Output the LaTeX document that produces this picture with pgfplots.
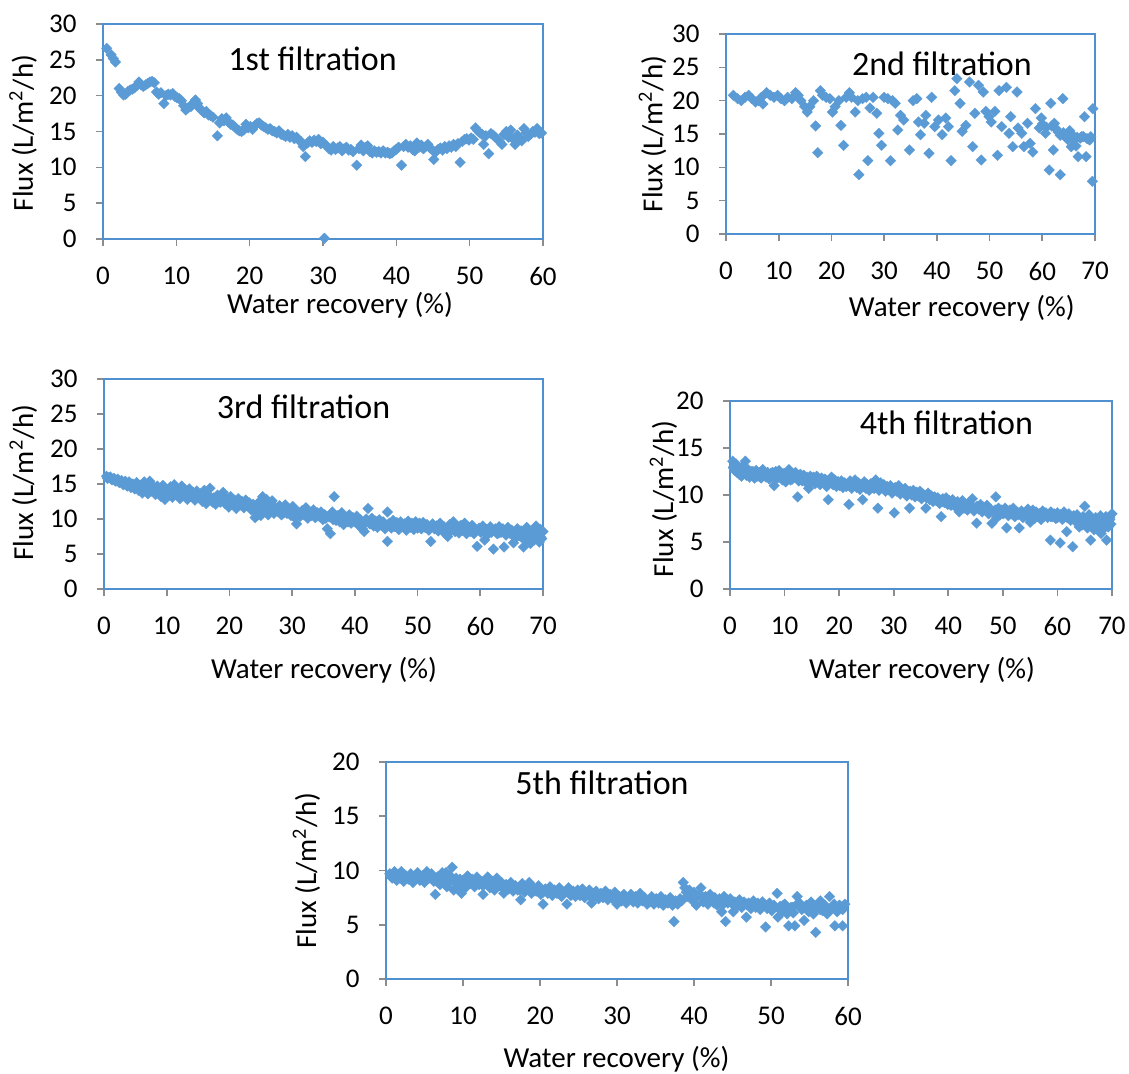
\documentclass[border=0pt]{standalone}
\usepackage{fontspec}
\setmainfont{Carlito}
\usepackage{pgfplots}
\pgfplotsset{compat=1.18}
\definecolor{mk}{HTML}{5B9BD5}
\definecolor{fr}{HTML}{4F90D0}
\definecolor{tk}{HTML}{8C8C8C}
\pgfplotsset{
  flux/.style={
    scale only axis, anchor=south west, clip=false,
    axis line style={draw=fr, line width=1pt},
    tick align=outside, major tick length=3.5pt,
    every tick/.style={draw=tk, line width=0.8pt},
    xtick pos=bottom, ytick pos=left, ymin=0,
    /pgf/number format/assume math mode=true,
    ticklabel style={font=\fontsize{13.5}{13.5}\selectfont, inner sep=0pt},
    yticklabel style={anchor=east, xshift=-9.5pt},
    xticklabel style={anchor=north, yshift=-10.2pt},
  },
  pts/.style={only marks, mark=square*, mark size=1.9pt,
    mark options={rotate=45, fill=mk, draw=mk, line width=0.1pt}},
}
\newcommand{\lab}{\fontsize{14.5}{14.5}\selectfont}
\newcommand{\ttl}{\fontsize{17}{17}\selectfont}
\begin{document}
\begin{tikzpicture}
\useasboundingbox (0,0) rectangle (564.5pt,-537pt);
% ---------- Panel 1
\begin{axis}[flux, at={(51.5pt,-119.5pt)}, width=220pt, height=107.5pt,
  xmin=0, xmax=60, ymax=30, xtick={0,10,...,60}, ytick={0,5,...,30}]
\addplot[pts] table {
x y
0.5 26.6
1.1 25.7
1.4 25.2
1.7 24.7
2.2 21.0
2.5 20.5
2.8 20.1
3.1 20.2
3.4 20.6
3.7 20.8
4.0 20.9
4.3 21.1
4.6 21.4
4.9 21.9
5.2 21.5
5.5 21.3
5.8 21.5
6.1 21.7
6.4 21.9
6.7 22.0
7.0 21.8
7.3 20.5
7.6 20.2
7.9 20.4
8.3 18.9
8.6 20.0
8.9 20.2
9.2 20.1
9.5 20.3
9.8 19.9
10.1 19.7
10.4 19.6
10.7 19.3
11.0 18.6
11.3 18.0
11.6 18.3
12.0 18.5
12.3 19.0
12.6 19.4
12.9 18.9
13.2 18.2
13.5 17.9
13.8 17.6
14.1 17.8
14.4 17.3
14.7 17.2
15.0 17.0
15.6 14.4
15.9 16.2
16.2 16.8
16.5 16.5
16.8 16.9
17.1 16.3
17.4 16.0
17.7 15.9
18.0 15.6
18.3 15.3
18.6 15.1
18.9 15.0
19.2 15.2
19.5 16.0
19.8 15.5
20.1 15.7
20.4 15.3
20.7 15.8
21.0 16.1
21.3 16.2
21.6 15.9
21.9 15.7
22.2 15.5
22.5 15.3
22.8 15.4
23.1 15.1
23.4 15.0
23.7 14.8
24.0 15.1
24.3 14.6
24.6 14.5
24.9 14.3
25.2 14.6
25.5 14.2
25.8 14.4
26.1 14.0
26.4 14.2
26.7 13.8
27.0 13.6
27.3 12.9
27.6 11.5
27.9 13.4
28.2 13.7
28.5 13.5
28.8 13.8
29.1 13.6
29.4 13.9
29.7 13.3
30.0 13.5
30.2 0.1
30.5 13.0
30.8 12.6
31.1 12.4
31.4 12.9
31.7 12.5
32.0 12.7
32.3 12.9
32.6 12.3
32.9 12.6
33.2 12.8
33.5 12.4
33.8 12.5
34.1 12.2
34.6 10.3
34.9 12.6
35.2 13.1
35.5 12.3
35.8 12.8
36.1 13.0
36.4 12.2
36.7 12.0
37.0 12.3
37.3 12.1
37.6 12.2
37.9 12.0
38.2 12.3
38.5 12.0
38.8 12.1
39.1 11.9
39.4 12.0
39.7 12.3
40.0 12.5
40.3 12.8
40.7 10.3
41.0 12.9
41.3 13.2
41.6 12.8
41.9 13.0
42.2 12.5
42.5 12.3
42.8 13.4
43.1 12.8
43.4 13.1
43.7 12.6
44.0 12.9
44.3 13.2
44.6 12.7
44.9 12.4
45.1 11.1
45.4 12.2
45.7 12.5
46.0 12.7
46.3 12.4
46.6 12.9
46.9 12.6
47.2 13.0
47.5 12.8
47.8 13.2
48.1 12.9
48.4 13.3
48.7 10.7
49.0 13.6
49.3 13.9
49.6 14.0
49.9 13.8
50.2 14.1
50.5 13.9
50.8 15.5
51.1 15.1
51.4 14.8
51.7 14.6
51.9 13.2
52.2 14.4
52.6 11.9
52.9 14.7
53.2 14.5
53.5 14.2
53.8 13.9
54.1 13.6
54.4 13.2
54.7 14.6
55.0 15.0
55.3 14.2
55.6 15.2
55.9 14.0
56.2 13.2
56.5 14.5
56.8 14.1
57.1 13.7
57.4 15.4
57.7 14.8
58.0 14.3
58.3 14.6
58.6 15.0
58.9 14.9
59.2 15.4
59.5 14.7
59.8 14.8
};
\end{axis}
% ---------- Panel 2
\begin{axis}[flux, at={(363pt,-117pt)}, width=184.5pt, height=100pt,
  xmin=0, xmax=70, ymax=30, xtick={0,10,...,70}, ytick={0,5,...,30}]
\addplot[pts] table {
x y
1.4 20.8
2.2 20.3
2.9 20.0
3.6 20.5
4.3 20.8
4.9 20.3
5.6 19.8
6.2 20.0
6.7 20.5
7.0 19.5
7.7 21.2
8.4 20.8
9.1 20.5
9.8 20.8
10.4 20.3
11.1 20.0
11.7 20.5
12.5 20.3
13.2 21.2
13.7 20.8
14.2 20.0
14.9 19.1
15.4 18.3
15.9 19.1
16.6 20.0
17.0 16.2
17.4 12.2
17.9 21.5
18.3 20.8
19.0 20.5
19.7 20.3
20.2 18.3
20.7 19.1
21.4 20.0
21.8 16.3
22.3 13.3
22.8 20.5
23.4 21.2
23.8 20.5
24.5 18.3
25.0 20.0
25.2 8.9
25.9 20.3
26.6 20.5
26.9 11.0
27.3 18.9
27.9 20.5
28.6 18.1
29.0 15.1
29.5 13.3
30.0 20.5
30.7 20.3
31.2 11.0
31.6 20.0
32.1 19.6
32.6 15.6
33.1 17.8
33.7 17.1
34.8 12.6
35.5 20.0
36.2 20.3
36.5 16.8
36.9 14.9
37.6 16.6
37.9 17.8
38.5 12.1
39.0 20.5
39.6 16.1
40.3 17.1
41.0 14.9
41.7 17.4
42.2 16.1
42.7 11.0
43.4 21.5
43.8 23.3
44.4 19.6
44.8 15.4
45.5 16.3
46.2 22.8
46.8 13.1
47.2 18.1
47.9 22.3
48.4 11.1
48.8 21.3
49.3 18.4
49.9 17.6
50.3 16.8
51.0 18.4
51.5 11.8
51.8 21.5
52.3 16.1
53.2 22.0
53.7 15.1
54.0 17.6
54.4 13.1
55.2 21.3
55.4 15.9
56.1 15.1
56.5 13.1
57.2 16.6
57.7 13.6
58.2 12.3
58.7 18.8
59.4 15.9
59.8 17.4
60.0 16.5
60.6 15.1
60.8 16.0
61.3 9.6
61.6 19.6
61.8 16.2
62.1 12.6
62.3 16.6
62.6 15.8
63.0 15.3
63.4 8.9
63.4 14.8
63.9 20.3
64.0 15.2
64.4 14.6
64.8 14.2
65.1 15.3
65.2 15.5
65.5 13.1
65.8 14.8
66.1 14.1
66.4 13.2
66.6 14.5
66.8 11.6
67.2 14.4
67.5 14.6
67.8 14.6
68.0 17.6
68.3 11.6
68.5 14.3
69.0 14.1
69.2 14.6
69.5 7.9
69.6 18.8
};
\end{axis}
% ---------- Panel 3
\begin{axis}[flux, at={(52pt,-294.5pt)}, width=219.5pt, height=105pt,
  xmin=0, xmax=70, ymax=30, xtick={0,10,...,70}, ytick={0,5,...,30}]
\addplot[pts] table {
x y
0.4 16.1
0.7 15.9
1.0 16.0
1.3 15.6
1.6 15.8
1.9 15.4
2.2 15.7
2.5 15.2
2.8 15.5
3.1 14.9
3.4 15.4
3.7 14.7
4.0 15.3
4.3 14.5
4.6 15.0
4.9 14.3
5.2 15.2
5.5 14.1
5.8 14.8
6.1 13.7
6.4 15.3
6.7 14.2
7.0 13.6
7.3 15.4
7.6 14.0
7.9 14.6
8.2 13.5
8.5 14.7
8.8 13.9
9.1 13.2
9.4 14.8
9.7 12.8
10.0 14.2
10.3 13.4
10.6 14.6
10.9 13.1
11.2 14.9
11.5 13.6
11.8 14.2
12.1 12.9
12.4 14.7
12.7 13.5
13.0 14.1
13.3 12.8
13.6 14.3
13.9 13.2
14.2 13.8
14.5 12.7
14.8 14.0
15.1 13.1
15.4 13.6
15.7 12.5
16.0 14.1
16.3 12.2
16.6 13.5
16.9 14.4
17.2 12.6
17.5 13.0
17.8 12.1
18.1 13.4
18.4 12.5
18.7 13.0
19.0 13.8
19.3 12.2
19.6 12.9
19.9 11.7
20.2 13.2
20.5 12.3
20.8 12.7
21.1 11.5
21.4 12.9
21.7 12.0
22.0 12.5
22.3 11.6
22.6 12.7
22.9 11.9
23.2 12.3
23.5 11.3
23.8 12.1
24.1 10.2
24.4 11.0
24.7 12.4
25.0 10.5
25.3 13.2
25.6 11.5
25.9 12.8
26.2 10.6
26.5 11.9
26.8 12.6
27.1 10.8
27.4 11.6
27.7 11.1
28.0 11.9
28.3 10.6
28.6 11.4
28.9 12.0
29.2 10.8
29.5 11.3
29.8 10.5
30.1 11.8
30.4 10.2
30.7 9.3
31.0 11.0
31.3 10.4
31.6 11.2
31.9 10.6
32.2 11.6
32.5 10.1
32.8 11.0
33.1 10.5
33.4 11.3
33.7 10.2
34.0 10.9
34.3 10.4
34.6 11.0
34.9 9.9
35.2 10.6
35.6 8.6
35.9 10.3
36.1 7.9
36.4 11.0
36.7 13.2
37.0 9.8
37.3 10.5
37.6 9.6
37.9 10.9
38.2 9.2
38.5 10.3
38.8 9.7
39.1 10.6
39.4 9.4
39.7 10.2
40.0 9.6
40.3 10.4
40.6 9.1
40.9 9.9
41.2 8.6
41.5 8.2
41.8 10.0
42.1 11.5
42.4 9.3
42.7 10.1
43.0 9.0
43.3 9.7
43.6 8.8
43.9 9.9
44.2 9.1
44.5 9.6
44.8 8.6
45.2 11.0
45.2 6.8
45.5 9.4
45.8 8.7
46.1 9.8
46.4 8.9
46.7 9.5
47.0 8.5
47.3 9.6
47.6 8.9
47.9 9.3
48.2 8.4
48.5 9.7
48.8 8.8
49.1 9.4
49.4 8.5
49.7 9.6
50.0 8.7
50.3 9.4
50.6 8.6
50.9 9.5
51.2 8.8
51.5 9.2
51.8 8.4
52.1 6.8
52.4 9.3
52.7 8.6
53.0 9.0
53.3 8.3
53.6 9.4
53.9 8.5
54.2 8.9
54.5 7.8
54.8 7.5
55.1 9.2
55.4 8.4
55.7 9.6
56.0 8.2
56.3 8.9
56.6 8.0
56.9 9.1
57.2 8.4
57.5 9.4
57.8 7.9
58.1 8.8
58.4 8.2
58.7 9.1
59.0 7.9
59.5 6.1
59.8 8.7
60.1 8.1
60.4 9.0
60.7 7.0
61.0 8.5
61.3 7.9
61.6 8.9
61.9 8.2
62.1 5.7
62.4 8.6
62.7 7.9
63.0 8.9
63.3 8.1
63.6 8.6
63.8 6.0
64.1 7.7
64.4 8.8
64.7 8.0
65.0 8.4
65.3 6.6
65.6 7.3
65.9 8.6
66.2 7.6
66.5 8.3
66.9 6.0
67.1 7.1
67.4 8.8
67.7 7.4
68.0 6.5
68.3 8.2
68.6 7.0
68.9 9.0
69.2 7.7
69.4 6.7
69.6 8.5
69.8 7.2
70.0 8.2
0.55 15.8
1.15 15.7
1.75 15.5
2.35 15.3
2.95 15.2
3.55 15.0
4.15 14.8
4.75 14.7
5.35 14.5
5.95 14.5
6.55 14.3
7.15 14.6
7.75 14.2
8.35 14.1
8.95 14.3
9.55 13.8
10.15 13.7
10.75 14.0
11.35 13.9
11.95 13.5
12.55 13.9
13.15 13.4
13.75 13.6
14.35 13.2
14.95 13.5
15.55 13.0
16.15 13.2
16.75 12.8
17.35 12.4
17.95 12.9
18.55 12.4
19.15 12.6
19.75 12.3
20.35 12.6
20.95 12.1
21.55 12.3
22.15 11.9
22.75 12.2
23.35 11.7
23.95 11.4
24.55 10.6
25.15 11.8
25.75 12.3
26.35 11.2
26.95 11.6
27.55 11.3
28.15 11.5
28.75 10.9
29.35 11.4
29.95 10.9
30.55 11.1
31.15 10.7
31.75 10.9
32.35 10.4
32.95 10.8
33.55 10.6
34.15 10.7
34.75 10.3
35.35 10.1
35.95 10.5
36.55 9.9
37.15 10.2
37.75 9.9
38.35 10.1
38.95 9.6
39.55 9.9
40.15 9.9
40.75 9.6
41.35 9.3
41.95 9.6
42.55 9.4
43.15 9.6
43.75 9.2
44.35 9.4
44.95 9.1
45.55 9.2
46.15 9.0
46.75 9.1
47.35 9.2
47.95 8.9
48.55 9.1
49.15 8.9
49.75 9.1
50.35 8.9
50.95 9.0
51.55 8.8
52.15 9.0
52.75 8.8
53.35 8.7
53.95 8.9
54.55 8.6
55.15 8.7
55.75 8.5
56.35 8.7
56.95 8.4
57.55 8.6
58.15 8.4
58.75 8.5
59.35 8.3
59.95 8.4
60.55 8.2
61.15 8.4
61.75 8.1
62.35 8.3
62.95 8.0
63.55 8.2
64.15 7.9
64.75 8.2
65.35 7.8
65.95 8.0
66.55 7.4
67.15 7.8
67.75 8.1
68.35 7.6
68.95 7.9
69.55 7.5
};
\end{axis}
% ---------- Panel 4
\begin{axis}[flux, at={(365pt,-294.5pt)}, width=191pt, height=94pt,
  xmin=0, xmax=70, ymax=20, xtick={0,10,...,70}, ytick={0,5,...,20}]
\addplot[pts] table {
x y
0.5 13.6
0.7 13.0
0.9 12.6
1.1 13.3
1.3 12.4
1.5 13.0
1.7 12.2
1.9 12.8
2.1 12.0
2.4 13.1
2.6 12.4
2.8 13.6
3.0 12.1
3.3 12.7
3.6 11.9
3.9 12.5
4.2 12.2
4.5 11.8
4.8 12.6
5.1 12.0
5.4 12.4
5.7 11.8
6.0 12.7
6.3 12.1
6.6 11.9
6.9 12.4
7.2 11.7
7.5 12.3
7.8 12.0
8.1 11.0
8.4 12.5
8.7 11.8
9.0 12.6
9.3 12.0
9.6 11.6
9.9 12.3
10.2 11.4
10.5 12.0
10.8 12.7
11.1 11.6
11.4 12.2
11.7 11.9
12.0 12.4
12.4 9.8
12.6 11.5
12.9 12.2
13.2 11.8
13.5 12.1
13.8 11.4
14.1 11.9
14.4 10.7
14.7 12.0
15.0 11.5
15.3 11.9
15.6 11.2
15.9 12.0
16.2 11.6
16.5 11.1
16.8 11.8
17.1 11.3
17.4 11.7
17.7 10.9
18.0 9.5
18.3 11.5
18.6 11.9
18.9 11.1
19.2 11.6
19.5 10.9
19.8 11.4
20.1 11.0
20.4 11.5
20.7 10.8
21.0 11.3
21.3 10.9
21.8 9.0
22.0 11.5
22.3 10.7
22.6 11.2
22.9 11.6
23.2 10.8
23.5 11.3
23.8 10.6
24.1 11.1
24.3 9.5
24.6 11.4
24.9 10.7
25.2 11.1
25.5 10.5
25.8 11.2
26.1 10.8
26.4 11.0
26.7 11.6
27.1 8.6
27.3 10.5
27.6 11.3
27.9 10.8
28.2 11.1
28.5 10.4
28.8 10.9
29.1 10.6
29.4 11.0
29.7 10.2
30.1 8.1
30.3 10.8
30.6 10.4
30.9 11.0
31.2 10.1
31.5 10.6
31.8 10.3
32.1 10.7
32.4 9.9
32.9 8.6
33.0 10.4
33.3 10.0
33.6 10.5
33.9 9.8
34.2 10.3
34.5 9.9
34.8 10.4
35.1 9.6
35.4 10.1
35.9 8.6
36.0 9.8
36.3 10.2
36.6 9.5
36.9 9.9
37.2 9.3
37.5 9.8
37.8 9.4
38.1 9.7
38.4 9.1
38.7 7.7
39.0 9.6
39.3 9.2
39.6 9.7
39.9 9.0
40.2 9.4
40.5 8.9
40.8 9.5
41.1 9.1
41.4 8.7
41.7 9.3
42.0 8.2
42.3 8.9
42.6 9.4
42.9 8.6
43.2 9.0
43.5 8.4
43.8 9.2
44.1 8.7
44.4 9.6
44.7 8.3
45.2 7.0
45.3 8.8
45.6 8.5
45.9 9.0
46.2 8.2
46.5 8.7
46.8 8.4
47.1 8.9
47.4 8.0
47.7 8.5
48.0 7.0
48.3 8.2
48.7 9.8
48.9 7.6
49.2 8.6
49.5 7.9
49.8 8.4
50.1 8.0
50.4 8.6
50.7 6.5
51.0 7.8
51.3 8.4
51.6 8.0
51.9 8.6
52.2 7.7
52.5 8.2
52.8 7.9
53.0 6.5
53.4 8.3
53.7 7.6
54.0 8.1
54.3 7.8
54.6 8.5
55.0 7.1
55.2 7.9
55.5 8.4
55.8 7.5
56.1 8.2
56.4 7.7
56.7 8.0
57.0 7.4
57.3 8.3
57.6 7.8
57.9 8.1
58.2 7.6
58.7 5.2
58.8 8.2
59.1 7.7
59.4 8.0
59.7 7.5
60.0 8.1
60.5 4.9
60.6 7.8
60.9 7.4
61.2 8.2
61.7 6.1
61.8 7.6
62.1 8.0
62.4 7.3
62.8 4.5
63.0 7.8
63.3 7.2
63.6 7.9
64.0 6.6
64.2 7.5
64.5 6.8
64.7 7.7
65.0 8.8
65.3 7.3
65.5 6.5
65.8 7.9
66.1 5.2
66.4 7.0
66.7 6.3
67.0 7.6
67.3 7.2
67.6 6.6
67.9 7.8
68.0 5.9
68.3 7.1
68.6 6.5
68.9 7.7
69.0 5.2
69.3 6.6
69.6 7.4
69.8 6.9
70.0 8.0
0.6 12.9
1.2 12.7
1.8 12.5
2.4 12.3
3.0 12.6
3.6 12.3
4.2 12.5
4.8 12.2
5.4 12.0
6.0 12.3
6.6 12.2
7.2 12.1
7.8 12.4
8.4 11.9
9.0 12.1
9.6 12.2
10.2 12.0
10.8 11.9
11.4 11.7
12.0 11.9
12.6 11.8
13.2 11.5
13.8 11.8
14.4 11.6
15.0 11.8
15.6 11.6
16.2 11.4
16.8 11.6
17.4 11.3
18.0 11.5
18.6 11.3
19.2 11.2
19.8 11.4
20.4 11.1
21.0 11.2
21.6 11.0
22.2 11.2
22.8 11.0
23.4 10.9
24.0 11.1
24.6 10.9
25.2 10.8
25.8 11.0
26.4 10.7
27.0 11.0
27.6 10.8
28.2 10.7
28.8 10.6
29.4 10.7
30.0 10.5
30.6 10.6
31.2 10.4
31.8 10.5
32.4 10.2
33.0 10.2
33.6 10.1
34.2 10.1
34.8 9.9
35.4 9.9
36.0 9.7
36.6 9.8
37.2 9.6
37.8 9.6
38.4 9.5
39.0 9.3
39.6 9.4
40.2 9.2
40.8 9.2
41.4 9.1
42.0 9.1
42.6 8.9
43.2 8.8
43.8 8.9
44.4 8.7
45.0 8.6
45.6 8.6
46.2 8.5
46.8 8.6
47.4 8.4
48.0 8.3
48.6 8.4
49.2 8.2
49.8 8.1
50.4 8.2
51.0 8.1
51.6 8.2
52.2 8.0
52.8 8.1
53.4 7.9
54.0 8.0
54.6 7.9
55.2 8.1
55.8 7.9
56.4 8.0
57.0 7.8
57.6 7.9
58.2 7.9
58.8 7.7
59.4 7.8
60.0 7.6
60.6 7.9
61.2 7.6
61.8 7.8
62.4 7.6
63.0 7.5
63.6 7.4
64.2 7.3
64.8 7.2
65.4 7.6
66.0 7.1
66.6 7.3
67.2 6.9
67.8 7.2
68.4 7.4
69.0 7.0
69.6 7.6
};
\end{axis}
% ---------- Panel 5
\begin{axis}[flux, at={(193pt,-489.5pt)}, width=231pt, height=108.5pt,
  xmin=0, xmax=60, ymax=20, xtick={0,10,...,60}, ytick={0,5,...,20}]
\addplot[pts] table {
x y
0.5 9.7
0.8 9.3
1.1 9.9
1.4 9.1
1.7 9.6
2.0 9.9
2.3 9.0
2.6 9.5
2.9 9.2
3.2 9.7
3.5 8.9
3.8 9.4
4.1 9.8
4.4 9.1
4.7 9.5
5.0 8.9
5.3 9.9
5.6 9.3
5.9 9.7
6.2 9.0
6.4 7.8
6.7 9.4
7.0 8.7
7.3 9.8
7.6 9.1
7.9 8.5
8.2 9.6
8.6 10.3
8.8 8.2
9.1 9.3
9.4 8.6
9.8 7.9
10.0 9.1
10.3 8.4
10.6 9.5
10.9 8.8
11.2 9.2
11.5 8.5
11.8 9.4
12.1 8.7
12.4 9.0
12.6 7.8
12.9 8.8
13.2 9.4
13.5 8.4
13.8 9.0
14.1 8.2
14.4 9.3
14.7 8.6
15.0 8.9
15.3 7.9
15.6 8.7
15.9 8.3
16.2 8.9
16.5 8.1
16.8 8.6
17.1 8.2
17.5 7.3
17.7 8.8
18.0 8.0
18.3 8.5
18.6 8.9
18.9 7.9
19.2 8.4
19.5 8.1
19.8 8.6
20.1 7.8
20.4 6.9
20.7 8.3
21.0 7.9
21.3 8.5
21.6 7.7
21.9 8.2
22.2 7.9
22.5 8.4
22.8 7.6
23.1 8.0
23.5 6.9
23.7 8.4
24.0 7.7
24.3 8.1
24.6 7.6
24.9 8.2
25.2 7.8
25.5 8.3
25.8 7.5
26.1 7.9
26.4 8.2
26.7 7.0
27.0 7.6
27.3 8.1
27.6 7.4
27.9 7.9
28.2 7.5
28.5 8.1
28.8 7.3
29.1 7.8
29.4 7.4
29.7 8.0
30.0 6.9
30.3 7.6
30.6 7.2
30.9 7.8
31.2 7.0
31.5 7.5
31.8 7.8
32.1 7.1
32.4 7.6
32.7 7.0
33.0 7.9
33.3 7.2
33.6 7.5
33.9 6.9
34.2 7.3
34.5 7.6
34.8 6.9
35.1 7.4
35.4 7.0
35.7 7.6
36.0 6.8
36.3 7.3
36.6 7.0
36.9 7.5
37.2 6.8
37.4 5.3
37.6 7.2
37.9 6.9
38.2 7.4
38.6 8.9
38.8 8.4
39.1 7.6
39.4 8.2
39.7 7.3
40.0 8.0
40.3 6.8
40.6 7.7
40.9 8.4
41.2 7.1
41.5 7.6
41.8 6.9
42.1 7.8
42.4 7.2
42.7 7.5
43.0 6.8
43.3 7.4
43.6 6.2
43.9 7.6
44.1 5.3
44.4 7.0
44.7 7.4
45.1 6.2
45.3 7.1
45.6 6.7
45.9 7.3
46.2 6.6
46.5 7.1
46.8 5.7
47.1 7.0
47.4 6.5
47.7 7.2
48.0 6.6
48.3 7.0
48.6 6.4
48.9 7.1
49.3 4.8
49.5 6.5
49.8 7.0
50.1 6.3
50.4 6.8
50.8 7.9
50.9 5.7
51.2 6.7
51.5 6.2
51.8 6.9
52.1 6.0
52.3 4.9
52.6 6.6
52.9 6.1
53.1 4.9
53.4 7.6
53.7 7.0
54.0 6.5
54.3 5.4
54.6 6.8
54.9 6.2
55.2 7.1
55.5 6.0
55.8 4.3
56.1 6.6
56.4 7.2
56.7 6.3
57.0 6.8
57.3 6.0
57.6 7.6
57.9 6.5
58.2 6.9
58.3 4.9
58.6 6.2
58.9 6.8
59.3 4.9
59.3 6.4
59.6 6.9
0.6 9.5
1.2 9.4
1.8 9.3
2.4 9.6
3.0 9.4
3.6 9.2
4.2 9.5
4.8 9.2
5.4 9.5
6.0 9.4
6.6 9.0
7.2 9.3
7.8 9.8
8.4 9.0
9.0 8.9
9.6 9.2
10.2 8.8
10.8 9.1
11.4 8.9
12.0 9.0
12.6 8.6
13.2 8.9
13.8 8.6
14.4 8.8
15.0 8.5
15.6 8.6
16.2 8.4
16.8 8.5
17.4 8.2
18.0 8.4
18.6 8.3
19.2 8.1
19.8 8.3
20.4 8.0
21.0 8.2
21.6 8.0
22.2 8.1
22.8 7.9
23.4 8.1
24.0 7.9
24.6 8.0
25.2 7.7
25.8 7.9
26.4 7.7
27.0 7.9
27.6 7.7
28.2 7.8
28.8 7.6
29.4 7.7
30.0 7.5
30.6 7.6
31.2 7.4
31.8 7.5
32.4 7.3
33.0 7.5
33.6 7.3
34.2 7.1
34.8 7.3
35.4 7.1
36.0 7.2
36.6 7.1
37.2 7.1
37.8 7.0
38.4 7.2
39.0 8.0
39.6 7.8
40.2 7.5
40.8 7.8
41.4 7.3
42.0 7.3
42.6 7.0
43.2 7.2
43.8 6.9
44.4 7.2
45.0 6.9
45.6 7.0
46.2 6.8
46.8 6.9
47.4 6.8
48.0 6.9
48.6 6.7
49.2 6.8
49.8 6.6
50.4 6.6
51.0 6.5
51.6 6.8
52.2 6.4
52.8 6.6
53.4 6.9
54.0 6.4
54.6 6.6
55.2 6.5
55.8 6.7
56.4 6.4
57.0 6.6
57.6 6.3
58.2 6.6
58.8 6.5
59.4 6.7
};
\end{axis}
% ---------- text
\node[rotate=90,font=\lab] at (11.5pt,-66.5pt) {Flux (L/m\textsuperscript{2}/h)};
\node[font=\lab] at (170pt,-152.5pt) {Water recovery (\%)};
\node[font=\ttl] at (156.25pt,-29.2pt) {1st filtration};
\node[rotate=90,font=\lab] at (326.25pt,-67pt) {Flux (L/m\textsuperscript{2}/h)};
\node[font=\lab] at (480.9pt,-154.2pt) {Water recovery (\%)};
\node[font=\ttl] at (470.95pt,-31.7pt) {2nd filtration};
\node[rotate=90,font=\lab] at (11.6pt,-241.25pt) {Flux (L/m\textsuperscript{2}/h)};
\node[font=\lab] at (162pt,-335pt) {Water recovery (\%)};
\node[font=\ttl] at (151.8pt,-203.35pt) {3rd filtration};
\node[rotate=90,font=\lab] at (331.7pt,-249.5pt) {Flux (L/m\textsuperscript{2}/h)};
\node[font=\lab] at (461pt,-335pt) {Water recovery (\%)};
\node[font=\ttl] at (473.2pt,-211.65pt) {4th filtration};
\node[rotate=90,font=\lab] at (153.2pt,-435.4pt) {Flux (L/m\textsuperscript{2}/h)};
\node[font=\lab] at (308.2pt,-529.5pt) {Water recovery (\%)};
\node[font=\ttl] at (301pt,-391.65pt) {5th filtration};
\end{tikzpicture}
\end{document}
